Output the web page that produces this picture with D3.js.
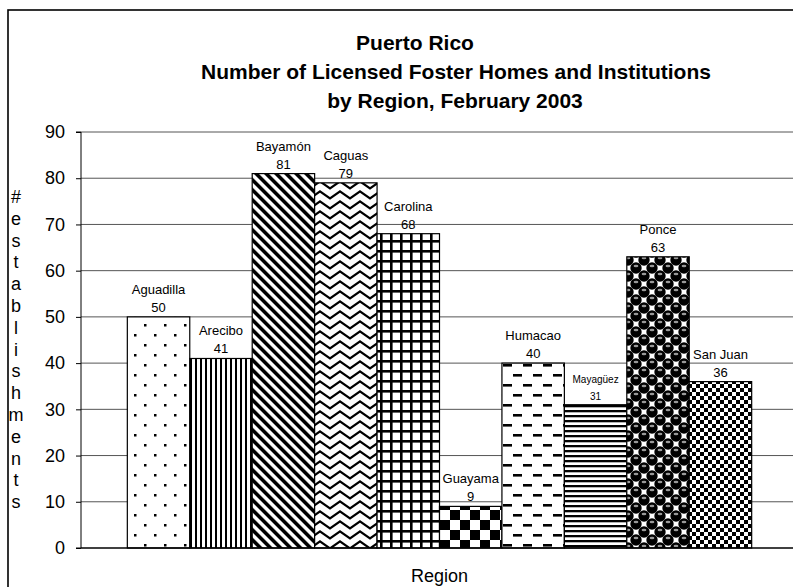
<!DOCTYPE html>
<html>
<head>
<meta charset="utf-8">
<script src="https://cdn.jsdelivr.net/npm/d3@7"></script>
<style>
  html, body { margin: 0; padding: 0; background: #fff; }
  svg { display: block; }
  text { font-family: "Liberation Sans", Arial, Helvetica, sans-serif; fill: #000; }
</style>
</head>
<body>
<svg id="chart" width="793" height="587"></svg>
<script>
// Licensed foster homes and institutions per region
const regions = ["Aguadilla", "Arecibo", "Bayamón", "Caguas", "Carolina",
                 "Guayama", "Humacao", "Mayagüez", "Ponce", "San Juan"];
const counts = [50, 41, 81, 79, 68, 9, 40, 31, 63, 36];
const yTicks = [0, 10, 20, 30, 40, 50, 60, 70, 80, 90];
const titleLines = ["Puerto Rico",
                    "Number of Licensed Foster Homes and Institutions",
                    "by Region, February 2003"];
const yTitle = "# establishments";
const xTitle = "Region";

const W = 793, H = 587;
const plot = { left: 81, right: 798, top: 132, bottom: 548 };

const svg = d3.select("#chart");
const defs = svg.append("defs");

// ---- fill patterns, one per bar ----
function pattern(id, w, h, draw, transform) {
  const p = defs.append("pattern")
    .attr("id", id)
    .attr("patternUnits", "userSpaceOnUse")
    .attr("width", w).attr("height", h);
  if (transform) p.attr("patternTransform", transform);
  p.append("rect").attr("width", w).attr("height", h).attr("fill", "#fff");
  draw(p);
}
const patternDrawers = [
  // sparse dots
  () => pattern("pat0", 20, 20, g => {
    g.append("rect").attr("x", 4).attr("y", 4).attr("width", 2.5).attr("height", 2.5).attr("fill", "#000");
    g.append("rect").attr("x", 14).attr("y", 14).attr("width", 2.5).attr("height", 2.5).attr("fill", "#000");
  }),
  // narrow vertical lines
  () => pattern("pat1", 5, 5, g => {
    g.append("rect").attr("x", 0).attr("width", 2).attr("height", 5).attr("fill", "#000");
  }),
  // wide downward diagonal
  () => pattern("pat2", 7.07, 7.07, g => {
    g.append("rect").attr("x", 0).attr("width", 3.6).attr("height", 7.07).attr("fill", "#000");
  }, "rotate(-45)"),
  // zigzag
  () => pattern("pat3", 20, 10, g => {
    g.append("path").attr("d", "M-2,-0.5 L0,1.5 L10,8.5 L20,1.5 L22,-0.5")
      .attr("fill", "none").attr("stroke", "#000").attr("stroke-width", 2.2);
  }),
  // large grid
  () => pattern("pat4", 10, 10, g => {
    g.append("rect").attr("x", 0).attr("y", 0).attr("width", 2.6).attr("height", 10).attr("fill", "#000");
    g.append("rect").attr("x", 0).attr("y", 0).attr("width", 10).attr("height", 2.6).attr("fill", "#000");
  }),
  // large checkerboard
  () => pattern("pat5", 20, 20, g => {
    g.append("rect").attr("x", 0).attr("y", 0).attr("width", 10).attr("height", 10).attr("fill", "#000");
    g.append("rect").attr("x", 10).attr("y", 10).attr("width", 10).attr("height", 10).attr("fill", "#000");
  }),
  // dashed horizontal
  () => pattern("pat6", 20, 20, g => {
    g.append("rect").attr("x", 3).attr("y", 4).attr("width", 9).attr("height", 2.6).attr("fill", "#000");
    g.append("rect").attr("x", 13).attr("y", 14).attr("width", 9).attr("height", 2.6).attr("fill", "#000");
    g.append("rect").attr("x", -7).attr("y", 14).attr("width", 9).attr("height", 2.6).attr("fill", "#000");
  }),
  // narrow horizontal lines
  () => pattern("pat7", 5, 5, g => {
    g.append("rect").attr("y", 0).attr("width", 5).attr("height", 2.3).attr("fill", "#000");
  }),
  // spheres on a checker layout
  () => pattern("pat8", 16, 16, g => {
    [[4, 4], [12, 12], [20, 4], [-4, 12], [4, 20], [12, -4], [20, 20], [-4, -4], [-4, 20], [20, -4]]
      .forEach(([cx, cy]) => {
        g.append("circle").attr("cx", cx).attr("cy", cy).attr("r", 5.7).attr("fill", "#000");
      });
    [[4, 4], [12, 12]].forEach(([cx, cy]) => {
      g.append("ellipse").attr("cx", cx).attr("cy", cy - 2).attr("rx", 2.4).attr("ry", 1.2).attr("fill", "#999");
    });
  }),
  // small checkerboard
  () => pattern("pat9", 8, 8, g => {
    g.append("rect").attr("x", 0).attr("y", 0).attr("width", 4).attr("height", 4).attr("fill", "#000");
    g.append("rect").attr("x", 4).attr("y", 4).attr("width", 4).attr("height", 4).attr("fill", "#000");
  })
];
patternDrawers.forEach(f => f());

// ---- frame ----
svg.append("rect")
  .attr("x", 8).attr("y", 10).attr("width", 820).attr("height", 620)
  .attr("fill", "none").attr("stroke", "#000").attr("stroke-width", 1.6);

// ---- scales ----
const x = d3.scaleBand()
  .domain(regions)
  .range([plot.left, plot.right])
  .paddingInner(0)
  .paddingOuter(0.742);

const y = d3.scaleLinear()
  .domain([0, 90])
  .range([plot.bottom, plot.top]);

// ---- gridlines ----
svg.append("g")
  .selectAll("line")
  .data(yTicks.filter(t => t > 0))
  .join("line")
  .attr("x1", plot.left).attr("x2", W)
  .attr("y1", d => y(d)).attr("y2", d => y(d))
  .attr("stroke", "#555").attr("stroke-width", 1);

// ---- y axis ----
const yAxis = d3.axisLeft(y)
  .tickValues(yTicks)
  .tickSize(5)
  .tickPadding(11)
  .tickFormat(d3.format("d"));
const yg = svg.append("g")
  .attr("transform", `translate(${plot.left},0)`)
  .call(yAxis);
yg.select(".domain").attr("stroke", "#000").attr("d", `M-5,${plot.top}H0V${plot.bottom}H-5`);
yg.selectAll(".tick line").attr("stroke", "#000");
yg.selectAll(".tick text")
  .attr("font-size", 18)
  .attr("font-family", "'Liberation Sans', Arial, sans-serif");

// ---- bars ----
svg.append("g")
  .selectAll("rect")
  .data(regions)
  .join("rect")
  .attr("x", d => x(d))
  .attr("y", (d, i) => y(counts[i]))
  .attr("width", x.bandwidth())
  .attr("height", (d, i) => y(0) - y(counts[i]))
  .attr("fill", (d, i) => `url(#pat${i})`)
  .attr("stroke", "#000")
  .attr("stroke-width", 1.2);

// ---- x axis baseline ----
svg.append("line")
  .attr("x1", plot.left).attr("x2", W)
  .attr("y1", y(0)).attr("y2", y(0))
  .attr("stroke", "#000").attr("stroke-width", 1.3);

// ---- bar labels: region name above its count ----
const labels = svg.append("g").attr("text-anchor", "middle");
regions.forEach((name, i) => {
  const cx = x(name) + x.bandwidth() / 2;
  const top = y(counts[i]);
  const small = name === "Mayagüez";
  const fs = small ? 10 : 13;
  labels.append("text")
    .attr("x", cx).attr("y", top - 5)
    .attr("font-size", fs)
    .text(counts[i]);
  labels.append("text")
    .attr("x", cx).attr("y", top - 5 - (small ? 17 : 18))
    .attr("font-size", fs)
    .text(name);
});

// ---- titles ----
const titleCenters = [415, 456, 455];
const titleBase = [50, 79, 108];
svg.append("g")
  .selectAll("text")
  .data(titleLines)
  .join("text")
  .attr("x", (d, i) => titleCenters[i])
  .attr("y", (d, i) => titleBase[i])
  .attr("text-anchor", "middle")
  .attr("font-size", 21)
  .attr("font-weight", "bold")
  .text(d => d);

// stacked vertical axis title
const chars = Array.from(yTitle).filter(c => c !== " ");
svg.append("g")
  .selectAll("text")
  .data(chars)
  .join("text")
  .attr("x", 16)
  .attr("y", (d, i) => 203 + i * 21.8)
  .attr("text-anchor", "middle")
  .attr("font-size", 18)
  .text(d => d);

svg.append("text")
  .attr("x", (plot.left + plot.right) / 2)
  .attr("y", 582)
  .attr("text-anchor", "middle")
  .attr("font-size", 18)
  .text(xTitle);
</script>
</body>
</html>
